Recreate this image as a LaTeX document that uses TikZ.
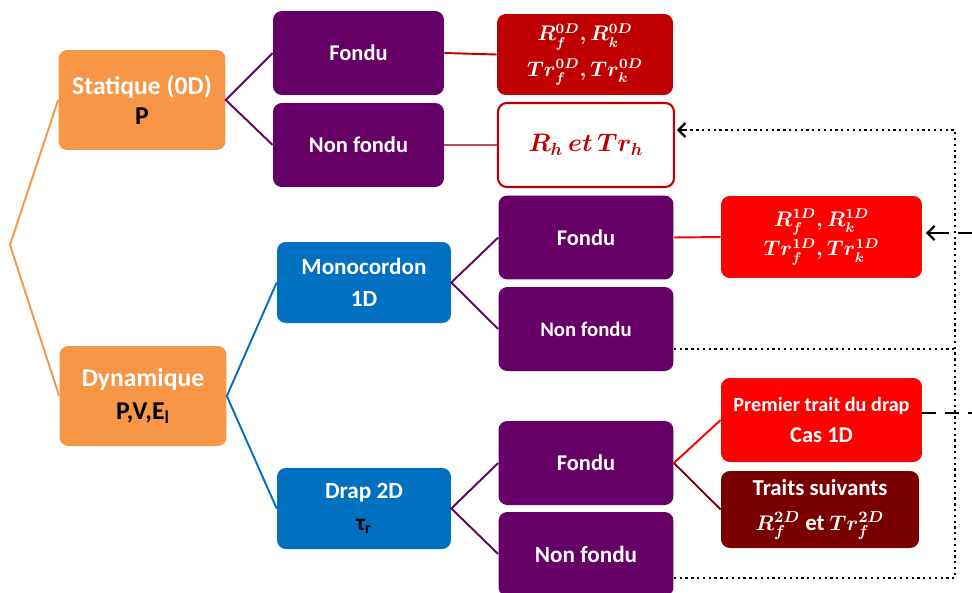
\documentclass[tikz,border=0pt]{standalone}
\usepackage{fontspec}
\setmainfont{Carlito}
\usepackage{amsmath,bm}
\usetikzlibrary{arrows.meta}
\definecolor{orangeB}{HTML}{F79646}
\definecolor{purpleB}{HTML}{660066}
\definecolor{blueB}{HTML}{0070C0}
\definecolor{redA}{HTML}{C00000}
\definecolor{redB}{HTML}{FF0000}
\definecolor{redC}{HTML}{7A0000}
\definecolor{redD}{HTML}{C0504D}
\begin{document}
\begin{tikzpicture}[x=0.02cm,y=-0.02cm,
  box/.style={rounded corners=5pt, align=center, text=white, inner sep=0pt,
    font=\bfseries\fontsize{12.8}{18}\selectfont},
  cat/.style={box, fill=orangeB, minimum width=3.34cm, minimum height=2cm,
    font=\bfseries\fontsize{14.6}{17.5}\selectfont},
  kind/.style={box, fill=blueB, minimum width=3.48cm, minimum height=1.62cm,
    font=\bfseries\fontsize{13.2}{18}\selectfont},
  state/.style={box, fill=purpleB, minimum width=3.5cm, minimum height=1.68cm},
  res/.style={box, minimum width=3.7cm, minimum height=1.64cm},
  link/.style={line width=1.1pt},
  loop/.style={line width=1.3pt, dotted},
  back/.style={line width=1.3pt, dash pattern=on 8pt off 5pt},
  tip/.style={-{Straight Barb[length=4pt,width=8pt,line width=1.3pt]}}
]
\useasboundingbox (0,0) rectangle (972,592);

% categories
\node[cat] (stat) at (142,100) {Statique (0D)\\\textcolor{black}{P}};
\node[cat] (dyn) at (143,396) {Dynamique\\[1pt]\textcolor{black}{P,V,E\textsubscript{l}}};

% weld types
\node[kind] (mono) at (364,282.5) {Monocordon\\1D};
\node[kind] (drap) at (364,508.5) {Drap 2D\\\textcolor{black}{τ\textsubscript{r}}};

% fused / not fused
\node[state, minimum width=3.42cm] (sfondu) at (358.5,53) {Fondu};
\node[state, minimum width=3.42cm] (snon) at (358.5,145) {Non fondu};
\node[state] (mfondu) at (586,237.5) {Fondu};
\node[state] (mnon) at (586,329) {\fontsize{11.8}{13}\selectfont Non fondu};
\node[state] (dfondu) at (586,463) {Fondu};
\node[state] (dnon) at (586,554) {\fontsize{13.2}{15}\selectfont Non fondu};

% results
\node[res, fill=redA, minimum width=3.52cm, minimum height=1.62cm,
  font=\bfseries\boldmath\fontsize{11.5}{20}\selectfont] (r0d) at (585,54.5)
  {$R_f^{0D},R_k^{0D}$\\$Tr_f^{0D},Tr_k^{0D}$};
\node[res, fill=white, draw=redA, line width=1.2pt, text=redA, minimum width=3.52cm,
  minimum height=1.68cm, font=\boldmath\fontsize{14.5}{18}\selectfont] (rh) at (586,145)
  {$R_h\,et\,Tr_h$};
\node[res, fill=redB, minimum width=4.02cm,
  font=\bfseries\boldmath\fontsize{12}{17}\selectfont] (r1d) at (821.5,237)
  {$R_f^{1D},R_k^{1D}$\\$Tr_f^{1D},Tr_k^{1D}$};
\node[res, fill=redB, minimum width=4.02cm, minimum height=1.68cm] (prem) at (821.5,420)
  {{\fontsize{11.5}{12}\selectfont Premier trait du drap}\\Cas 1D};
\node[res, fill=redC, minimum width=3.96cm, minimum height=1.54cm,
  font=\bfseries\boldmath\fontsize{13}{20}\selectfont] (suiv) at (820,509.5)
  {Traits suivants\\$R_f^{2D}$ et $Tr_f^{2D}$};

% tree
\coordinate (root) at (10,245);
\draw[link, orangeB] (stat.west) -- (root) -- (dyn.west);
\draw[link, purpleB] (sfondu.west) -- (stat.east) -- (snon.west);
\draw[link, blueB] (mono.west) -- (dyn.east) -- (drap.west);
\draw[link, purpleB] (mfondu.west) -- (mono.east) -- (mnon.west);
\draw[link, purpleB] (dfondu.west) -- (drap.east) -- (dnon.west);
\draw[link, redA] (sfondu.east) -- (r0d.west);
\draw[link, redD] (snon.east) -- (rh.west);
\draw[link, redB] (mfondu.east) -- (r1d.west);
\draw[link, redB] (dfondu.east) -- (prem.west);
\draw[link, redC] (dfondu.east) -- (suiv.west);

% loops back
\coordinate (l1) at (955,349);
\coordinate (l2) at (955,578);
\coordinate (l3) at (955,130);
\coordinate (d1) at (972,413);
\coordinate (d2) at (972,233);
\draw[loop] (mnon.east |- l1) -- (l1);
\draw[loop] (dnon.east |- l2) -- (l2) -- (l3) -- ([xshift=4pt]rh.east |- l3);
\draw[tip, line width=1.3pt] ([xshift=6pt]rh.east |- l3) -- ([xshift=1pt]rh.east |- l3);
\draw[back] (prem.east |- d1) -- (d1);
\draw[back] (d2) -- ([xshift=5pt]r1d.east |- d2);
\draw[tip, line width=1.3pt] ([xshift=7pt]r1d.east |- d2) -- ([xshift=2pt]r1d.east |- d2);
\end{tikzpicture}
\end{document}
